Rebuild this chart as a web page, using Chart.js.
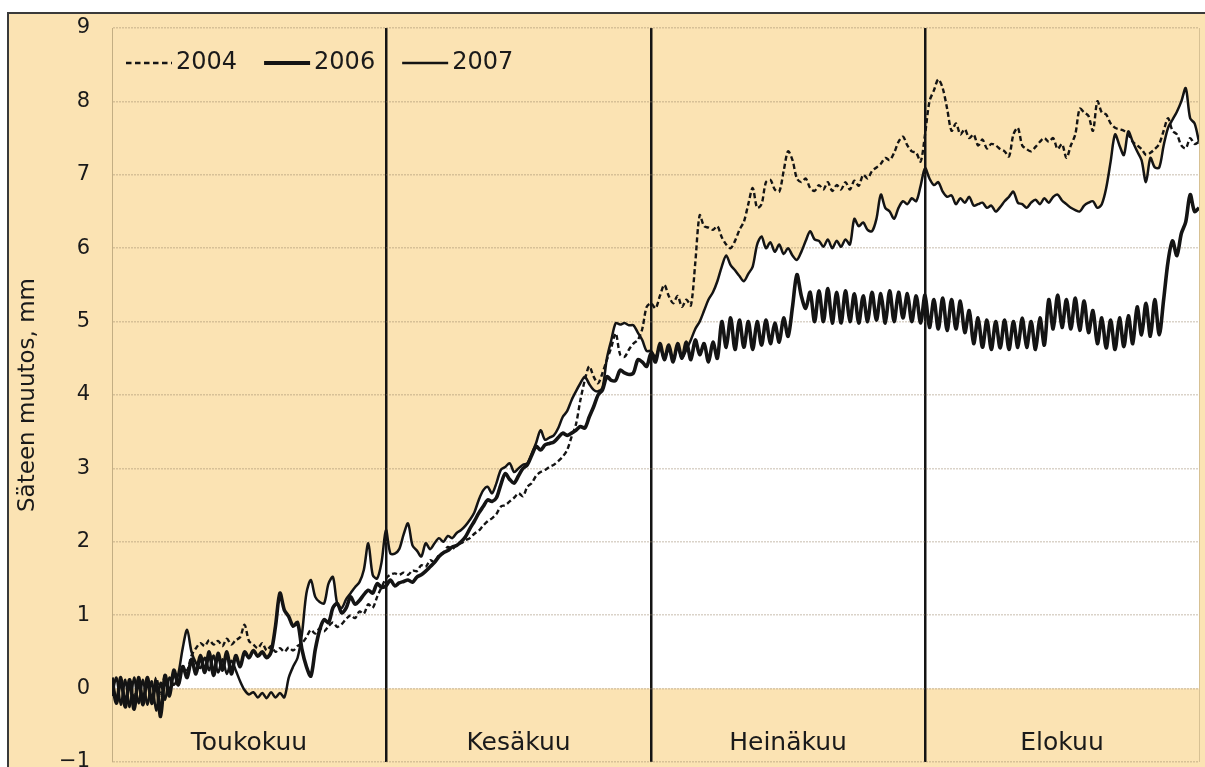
<!DOCTYPE html>
<html>
<head>
<meta charset="utf-8">
<script src="https://cdn.jsdelivr.net/npm/chart.js@4.4.1/dist/chart.umd.min.js"></script>
<style>
  html, body { margin: 0; padding: 0; background: #fff; width: 1205px; height: 767px; overflow: hidden; }
  #frame { position: absolute; left: 7px; top: 12px; width: 1215px; height: 770px; background: #fbe3b3;
           border-left: 2px solid #3a3a3a; border-top: 2px solid #3a3a3a; }
  #wrap { position: absolute; left: 0; top: 0; width: 1205px; height: 767px; }
</style>
</head>
<body>
<div id="frame"></div>
<div id="wrap"><canvas id="chart" width="1205" height="767"></canvas></div>
<script>
// time axis: days from 1 May, sampled twice a day
const days = Array.from({ length: 247 }, (_, i) => i / 2);

const monthNames = ['Toukokuu', 'Kesäkuu', 'Heinäkuu', 'Elokuu'];
const monthEdges = [0, 31, 61, 92, 123];

// radius change, mm (two readings per day)
const vals2004 = [
  0.10,-0.15, 0.12,-0.18, 0.10,-0.15, 0.14,-0.12, 0.12,-0.15, 0.15,-0.10, 0.18,-0.05, 0.22,0.05, 0.30,0.25, 0.45,0.55,
  0.62,0.58, 0.66,0.60, 0.65,0.58, 0.68,0.60, 0.66,0.70, 0.87,0.65, 0.60,0.55, 0.62,0.52, 0.58,0.50, 0.55,0.50,
  0.56,0.52, 0.58,0.62, 0.70,0.80, 0.75,0.82, 0.78,0.85, 0.90,0.84, 0.88,0.95, 1.00,0.96, 1.05,1.02, 1.15,1.10,
  1.25,1.38, 1.50,1.55, 1.57,1.55, 1.58,1.55, 1.61,1.60, 1.68,1.66, 1.75,1.72, 1.82,1.85, 1.93,1.90, 1.96,1.98,
  2.02,2.05, 2.11,2.15, 2.22,2.28, 2.32,2.38, 2.48,2.50, 2.55,2.60, 2.66,2.62, 2.75,2.80, 2.90,2.95, 2.98,3.02,
  3.05,3.10, 3.16,3.25, 3.43,3.60, 3.93,4.20, 4.39,4.25, 4.16,4.30, 4.48,4.65, 4.84,4.55, 4.52,4.62, 4.70,4.75,
  4.90,5.20, 5.25,5.18, 5.35,5.50, 5.35,5.25, 5.35,5.20, 5.30,5.22, 5.80,6.45, 6.30,6.28, 6.25,6.30, 6.15,6.05,
  6.00,6.10, 6.25,6.36, 6.60,6.82, 6.55,6.60, 6.90,6.93, 6.80,6.77, 7.05,7.32, 7.20,6.95, 6.90,6.95, 6.82,6.78,
  6.86,6.80, 6.90,6.78, 6.86,6.80, 6.90,6.80, 6.92,6.85, 7.00,6.95, 7.05,7.10, 7.15,7.23, 7.20,7.30, 7.45,7.52,
  7.40,7.32, 7.30,7.18, 7.55,8.00, 8.15,8.30, 8.18,7.90, 7.60,7.70, 7.55,7.62, 7.50,7.55, 7.40,7.48, 7.36,7.42,
  7.40,7.35, 7.32,7.25, 7.55,7.64, 7.40,7.35, 7.32,7.38, 7.45,7.50, 7.45,7.50, 7.35,7.42, 7.23,7.40, 7.55,7.90,
  7.85,7.80, 7.60,8.00, 7.85,7.82, 7.70,7.64, 7.62,7.60, 7.55,7.45, 7.40,7.35, 7.27,7.30, 7.35,7.42, 7.60,7.77,
  7.60,7.55, 7.40,7.36, 7.50,7.42, 7.45
];
const vals2006 = [
  0.15,-0.20, 0.15,-0.25, 0.12,-0.28, 0.15,-0.22, 0.15,-0.20, 0.10,-0.38, 0.18,-0.10, 0.25,0.05, 0.30,0.15, 0.40,0.20,
  0.45,0.22, 0.50,0.18, 0.48,0.25, 0.50,0.20, 0.45,0.30, 0.50,0.42, 0.52,0.44, 0.50,0.42, 0.50,0.85, 1.30,1.07,
  0.98,0.85, 0.90,0.53, 0.30,0.17, 0.53,0.80, 0.94,0.90, 1.10,1.16, 1.03,1.10, 1.25,1.15, 1.20,1.28, 1.34,1.30,
  1.43,1.38, 1.40,1.48, 1.40,1.44, 1.46,1.48, 1.45,1.52, 1.55,1.60, 1.66,1.72, 1.80,1.85, 1.88,1.93, 1.95,2.00,
  2.07,2.18, 2.28,2.39, 2.48,2.57, 2.55,2.60, 2.78,2.93, 2.85,2.80, 2.90,3.00, 3.05,3.18, 3.30,3.25, 3.32,3.34,
  3.36,3.42, 3.48,3.45, 3.48,3.52, 3.57,3.55, 3.70,3.84, 4.00,4.07, 4.25,4.20, 4.20,4.34, 4.30,4.28, 4.30,4.48,
  4.45,4.39, 4.57,4.45, 4.70,4.48, 4.68,4.45, 4.70,4.50, 4.72,4.48, 4.75,4.55, 4.70,4.45, 4.72,4.50, 5.00,4.65,
  5.05,4.62, 5.02,4.65, 5.00,4.62, 5.00,4.68, 5.02,4.70, 4.98,4.72, 5.05,4.80, 5.20,5.64, 5.35,5.18, 5.40,5.00,
  5.42,5.00, 5.45,4.98, 5.40,4.98, 5.42,5.00, 5.38,4.98, 5.35,5.00, 5.40,5.02, 5.38,4.98, 5.42,5.00, 5.40,5.05,
  5.38,5.00, 5.35,4.98, 5.36,4.92, 5.30,4.90, 5.32,4.88, 5.30,4.90, 5.28,4.85, 5.15,4.70, 5.05,4.65, 5.02,4.62,
  5.00,4.64, 5.02,4.62, 5.00,4.65, 5.05,4.65, 5.00,4.62, 5.05,4.68, 5.30,4.90, 5.36,4.92, 5.30,4.90, 5.32,4.88,
  5.28,4.85, 5.15,4.70, 5.05,4.64, 5.02,4.62, 5.05,4.66, 5.08,4.70, 5.20,4.82, 5.25,4.80, 5.30,4.82, 5.30,5.82,
  6.10,5.90, 6.20,6.36, 6.73,6.50, 6.55
];
const vals2007 = [
  -0.10,0.15, -0.22,0.12, -0.25,0.15, -0.20,0.12, -0.22,0.10, -0.30,0.08, -0.15,0.15, 0.05,0.20, 0.55,0.80, 0.50,0.35,
  0.28,0.42, 0.25,0.45, 0.22,0.40, 0.20,0.38, 0.25,0.10, -0.02,-0.08, -0.05,-0.12, -0.06,-0.13, -0.05,-0.12, -0.06,-0.12,
  0.15,0.30, 0.42,0.75, 1.30,1.48, 1.25,1.18, 1.16,1.43, 1.52,1.15, 1.10,1.22, 1.30,1.38, 1.45,1.62, 1.98,1.55,
  1.50,1.72, 2.16,1.84, 1.84,1.90, 2.10,2.25, 1.95,1.88, 1.80,1.98, 1.90,1.98, 2.05,2.00, 2.08,2.05, 2.12,2.16,
  2.22,2.30, 2.40,2.57, 2.70,2.75, 2.66,2.80, 2.98,3.02, 3.07,2.95, 3.00,3.05, 3.07,3.20, 3.35,3.52, 3.39,3.42,
  3.45,3.55, 3.70,3.78, 3.93,4.05, 4.16,4.25, 4.15,4.07, 4.05,4.10, 4.50,4.75, 4.98,4.96, 4.98,4.95, 4.95,4.85,
  4.75,4.60, 4.60,4.52, 4.65,4.50, 4.62,4.48, 4.65,4.50, 4.62,4.75, 4.90,5.00, 5.15,5.30, 5.40,5.55, 5.75,5.90,
  5.77,5.70, 5.62,5.55, 5.65,5.75, 6.05,6.16, 6.00,6.08, 5.95,6.05, 5.92,6.00, 5.90,5.84, 5.95,6.10, 6.23,6.12,
  6.10,6.02, 6.12,6.00, 6.10,6.02, 6.12,6.05, 6.40,6.30, 6.35,6.25, 6.23,6.40, 6.73,6.55, 6.50,6.40, 6.55,6.64,
  6.60,6.68, 6.64,6.85, 7.09,6.95, 6.86,6.90, 6.77,6.70, 6.72,6.60, 6.68,6.62, 6.70,6.58, 6.60,6.62, 6.55,6.58,
  6.50,6.56, 6.64,6.70, 6.77,6.62, 6.60,6.55, 6.62,6.66, 6.60,6.68, 6.62,6.70, 6.73,6.65, 6.60,6.55, 6.52,6.50,
  6.58,6.62, 6.64,6.55, 6.60,6.82, 7.18,7.55, 7.40,7.27, 7.59,7.45, 7.32,7.20, 6.90,7.23, 7.10,7.10, 7.40,7.64,
  7.75,7.86, 8.00,8.18, 7.77,7.70, 7.45
];

const FONT = 'DejaVu Sans';
const INK = '#1a1a1a';
const legendLineWidths = [2.5, 4, 2.6];

function pts(vals) {
  return vals.map((v, i) => ({ x: days[i], y: v }));
}

// month names inside the bottom band
const monthLabels = {
  id: 'monthLabels',
  afterDatasetsDraw(chart) {
    const { ctx, chartArea, scales: { x } } = chart;
    ctx.save();
    ctx.font = '25px "' + FONT + '"';
    ctx.fillStyle = INK;
    ctx.textAlign = 'center';
    ctx.textBaseline = 'middle';
    monthNames.forEach((name, i) => {
      const cx = (x.getPixelForValue(monthEdges[i]) + x.getPixelForValue(monthEdges[i + 1])) / 2;
      ctx.fillText(name, cx, chartArea.bottom - 19);
    });
    ctx.restore();
  }
};

// legend in the top left corner of the plot
const insideLegend = {
  id: 'insideLegend',
  afterDraw(chart) {
    const { ctx, chartArea } = chart;
    let x = chartArea.left + 14;
    const y = chartArea.top + 35;
    ctx.save();
    ctx.font = '24px "' + FONT + '"';
    ctx.fillStyle = INK;
    ctx.textBaseline = 'middle';
    chart.data.datasets.forEach((ds, i) => {
      ctx.save();
      ctx.strokeStyle = ds.borderColor;
      ctx.lineWidth = legendLineWidths[i];
      ctx.setLineDash(ds.borderDash ? [5.5, 3.5] : []);
      ctx.beginPath();
      ctx.moveTo(x, y);
      ctx.lineTo(x + 46, y);
      ctx.stroke();
      ctx.restore();
      x += 50;
      ctx.fillText(ds.label, x, y);
      x += ctx.measureText(ds.label).width + 27;
    });
    ctx.restore();
  }
};

const ctx = document.getElementById('chart').getContext('2d');
new Chart(ctx, {
  type: 'line',
  data: {
    datasets: [
      { label: '2004', data: pts(vals2004), borderColor: '#141414', borderWidth: 2.4, borderDash: [5, 3], fill: false },
      { label: '2006', data: pts(vals2006), borderColor: '#141414', borderWidth: 3.6,
        fill: { target: 'origin', above: '#ffffff', below: 'rgba(0,0,0,0)' } },
      { label: '2007', data: pts(vals2007), borderColor: '#141414', borderWidth: 2.5,
        fill: { target: 'origin', above: '#ffffff', below: 'rgba(0,0,0,0)' } }
    ]
  },
  options: {
    responsive: false,
    animation: false,
    elements: { point: { radius: 0 }, line: { tension: 0.3 } },
    layout: { padding: { left: 0, top: 28, right: 6, bottom: 5 } },
    plugins: {
      legend: { display: false },
      tooltip: { enabled: false },
      filler: { drawTime: 'beforeDraw' }
    },
    scales: {
      x: {
        type: 'linear',
        min: 0,
        max: 123,
        afterBuildTicks: (scale) => { scale.ticks = monthEdges.map(v => ({ value: v })); },
        afterFit: (scale) => { scale.height = 0; },
        ticks: { display: false },
        grid: {
          drawTicks: false,
          color: (c) => (c.index === 0 || c.index === monthEdges.length - 1) ? 'rgba(170,150,110,0.45)' : '#141414',
          lineWidth: (c) => (c.index === 0 || c.index === monthEdges.length - 1) ? 1 : 2.5
        },
        border: { display: false }
      },
      y: {
        min: -1,
        max: 9,
        afterFit: (scale) => {
          scale.width = 112;
          scale.paddingTop = 0;
          scale.paddingBottom = 0;
        },
        ticks: {
          stepSize: 1,
          padding: 22,
          color: INK,
          font: { family: FONT, size: 21 },
          callback: (v) => v < 0 ? '\u2212' + Math.abs(v) : String(v)
        },
        grid: { drawTicks: false, color: 'rgba(150,130,100,0.35)', lineWidth: 1.5 },
        border: { color: 'rgba(170,150,110,0.45)', dash: [2, 1] },
        title: {
          display: true,
          text: 'Säteen muutos, mm',
          color: INK,
          font: { family: FONT, size: 23 },
          padding: { top: 14, bottom: 0 }
        }
      }
    }
  },
  plugins: [monthLabels, insideLegend]
});
</script>
</body>
</html>
